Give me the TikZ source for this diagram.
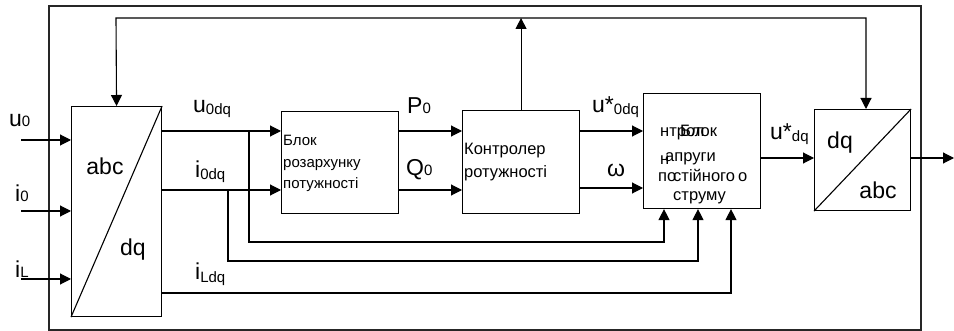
\documentclass[tikz,border=0pt]{standalone}
\usepackage{fontspec}
\setmainfont{Liberation Sans}
\usetikzlibrary{arrows.meta,calc}
\newcommand\sglab[3]{{\fontsize{23}{23}\selectfont #1}{\fontsize{15}{15}\selectfont\raisebox{#3}{#2}}}
\begin{document}
\begin{tikzpicture}[x=1pt,y=-1pt]
\tikzset{
  box/.style={draw, line width=1.1pt, inner sep=0pt, anchor=north west},
  wire/.style={line width=1.1pt},
  tipa/.tip={Triangle[length=11pt,width=11pt]},
  arr/.style={wire, -tipa},
  lbl/.style={inner sep=0pt, anchor=base west},
  txta/.style={inner sep=0pt, anchor=base west, font=\fontsize{15}{15}\selectfont},
  txtb/.style={inner sep=0pt, anchor=base west, font=\fontsize{16.5}{16.5}\selectfont},
  big/.style={inner sep=0pt, font=\fontsize{23}{23}\selectfont},
}
\useasboundingbox (0,0) rectangle (954,331);
\draw[line width=1.4pt, black!85] (49,6) rectangle (921,330);

% blocks
\node[box, minimum width=90pt, minimum height=210pt] (abc) at (71,106) {};
\node[box, minimum width=117pt, minimum height=102pt] (pcalc) at (281,111) {};
\node[box, minimum width=117pt, minimum height=103pt] (ctrl) at (462,110) {};
\node[box, minimum width=117pt, minimum height=115pt] (vdc) at (643,93) {};
\node[box, minimum width=96pt, minimum height=101pt] (dqabc) at (814,109) {};
\draw[wire] (abc.south west) -- (abc.north east);
\draw[wire] (dqabc.south west) -- (dqabc.north east);

% texts inside
\node[big] (tabc1) at (105,166) {abc};
\node[big] (tdq1) at (133,250) {dq};
\node[big] (tdq2) at (840,143) {dq};
\node[big] (tabc2) at (878,190) {abc};

\node[txta] (p1) at (283,146) {Блок};
\node[txta] (p2) at (283,168) {розархунку};
\node[txta] (p3) at (283,189) {потужності};

\node[txtb] (c1) at (464,155) {Контролер};
\node[txtb] (c2) at (464,178) {ротужності};

\node[txtb] (v1a) at (660,137) {нтрол};
\node[txtb] (v1b) at (680,137) {Блок};
\node[txtb] (v2a) at (660,165) {н};
\node[txtb] (v2b) at (665,162) {апруги};
\node[txtb] (v3a) at (658,182) {по};
\node[txtb] (v3b) at (673,182) {стійного};
\node[txtb] (v3c) at (738,182) {о};
\node[txtb] (v4) at (673,201) {струму};

% inputs
\coordinate (inU) at (21,140);
\coordinate (inI) at (21,211);
\coordinate (inL) at (21,279);
\draw[arr] (inU) -- (inU -| abc.west);
\draw[arr] (inI) -- (inI -| abc.west);
\draw[arr] (inL) -- (inL -| abc.west);

% main signal rows
\coordinate (yU) at (0,131);
\coordinate (yI) at (0,190);
\coordinate (yW) at (0,188);
\coordinate (yD) at (0,158);
\coordinate (yL) at (0,293);
\draw[arr] (abc.east |- yU) -- (pcalc.west |- yU);
\draw[arr] (abc.east |- yI) -- (pcalc.west |- yI);
\draw[arr] (pcalc.east |- yU) -- (ctrl.west |- yU);
\draw[arr] (pcalc.east |- yI) -- (ctrl.west |- yI);
\draw[arr] (ctrl.east |- yU) -- (vdc.west |- yU);
\draw[arr] (ctrl.east |- yW) -- (vdc.west |- yW);
\draw[arr] (vdc.east |- yD) -- (dqabc.west |- yD);
\coordinate (out) at (954,158);
\draw[arr] (dqabc.east |- yD) -- (out);

% top feedback
\coordinate (fbL) at (116,18);
\coordinate (fbR) at (866,18);
\draw[wire, tipa-tipa] (abc.north) -- (fbL) -- (fbR) -- (fbR |- dqabc.north);
\draw[arr] (ctrl.north) -- (ctrl.north |- fbL);

% bottom feedbacks
\coordinate (bU) at (249,131);
\coordinate (bI) at (228,190);
\coordinate (cU) at (664,242);
\coordinate (cI) at (698,261);
\coordinate (cL) at (731,293);
\draw[arr] (bU) |- (cU) -- (cU |- vdc.south);
\draw[arr] (bI) |- (cI) -- (cI |- vdc.south);
\draw[arr] (abc.east |- yL) -- (cL) -- (cL |- vdc.south);

% labels
\node[lbl] (lu0) at (9,127) {\sglab{u}{0}{0pt}};
\node[lbl] (li0) at (15,202) {\sglab{i}{0}{0pt}};
\node[lbl] (liL) at (15,278) {\sglab{i}{L}{0pt}};
\node[lbl] (lu0dq) at (193,113) {\sglab{u}{0dq}{-2pt}};
\node[lbl] (li0dq) at (195,178) {\sglab{i}{0dq}{-2pt}};
\node[lbl] (liLdq) at (195,280) {\sglab{i}{Ldq}{-2pt}};
\node[lbl] (lP0) at (407,114) {\sglab{P}{0}{0pt}};
\node[lbl] (lQ0) at (406,176) {\sglab{Q}{0}{0pt}};
\node[lbl] (lus0) at (592,113) {\sglab{u*}{0dq}{-2pt}};
\node[lbl] (lw) at (607,177) {\sglab{ω}{}{0pt}};
\node[lbl] (lusdq) at (770,140) {\sglab{u*}{dq}{-2pt}};
\end{tikzpicture}
\end{document}
